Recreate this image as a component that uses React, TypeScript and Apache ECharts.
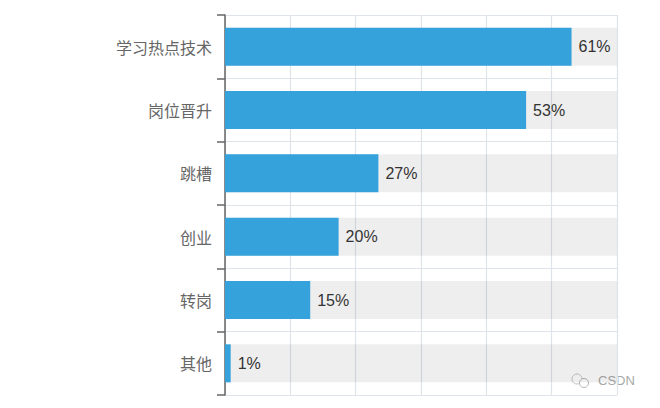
import React, { useEffect, useRef } from "react";
import * as echarts from "echarts";

const categories = ["学习热点技术", "岗位晋升", "跳槽", "创业", "转岗", "其他"];
const values = [61, 53, 27, 20, 15, 1];
const axisMax = 69;
const axisStep = 11.5;

export default function App() {
  const ref = useRef<HTMLDivElement>(null);
  useEffect(() => {
    const chart = echarts.init(ref.current!, undefined, { renderer: "svg" });
    chart.setOption({
      animation: false,
      backgroundColor: "#ffffff",
      grid: { left: 225, right: 43, top: 15, bottom: 13 },
      xAxis: {
        type: "value",
        min: 0,
        max: axisMax,
        interval: axisStep,
        axisLabel: { show: false },
        axisLine: { show: false },
        axisTick: { show: false },
        splitLine: { show: true, lineStyle: { color: "#dfe3ea", width: 1.2 } },
      },
      yAxis: {
        type: "category",
        inverse: true,
        data: categories,
        axisLine: { show: true, lineStyle: { color: "#666666", width: 1.5 } },
        axisTick: { show: true, length: 8, lineStyle: { color: "#666666", width: 1.5 } },
        splitLine: { show: true, lineStyle: { color: "#dfe3ea", width: 1.2 } },
        axisLabel: {
          color: "#666666",
          fontSize: 16,
          margin: 13,
          fontFamily: "Noto Sans CJK SC",
        },
      },
      series: [
        {
          type: "bar",
          data: values,
          barWidth: 38,
          showBackground: true,
          backgroundStyle: { color: "rgba(0,0,0,0.065)" },
          itemStyle: { color: "#35a2dc" },
          label: {
            show: true,
            position: "right",
            distance: 7,
            formatter: "{c}%",
            color: "#333333",
            fontSize: 16,
            fontFamily: "Liberation Sans",
          },
        },
      ],
      graphic: [
        { type: "circle", shape: { cx: 577, cy: 379, r: 5 }, style: { fill: "none", stroke: "#c4c4c4", lineWidth: 1 } },
        { type: "circle", shape: { cx: 584, cy: 383, r: 4.5 }, style: { fill: "#ffffff", stroke: "#b4b4b4", lineWidth: 1 } },
        {
          type: "text",
          x: 598,
          y: 374,
          style: { text: "CSDN", fill: "#a8a8a8", fontSize: 13, fontFamily: "Liberation Sans" },
        },
      ],
    });
    return () => chart.dispose();
  }, []);
  return <div ref={ref} style={{ position: "fixed", left: 0, top: 0, width: 660, height: 408 }} />;
}
